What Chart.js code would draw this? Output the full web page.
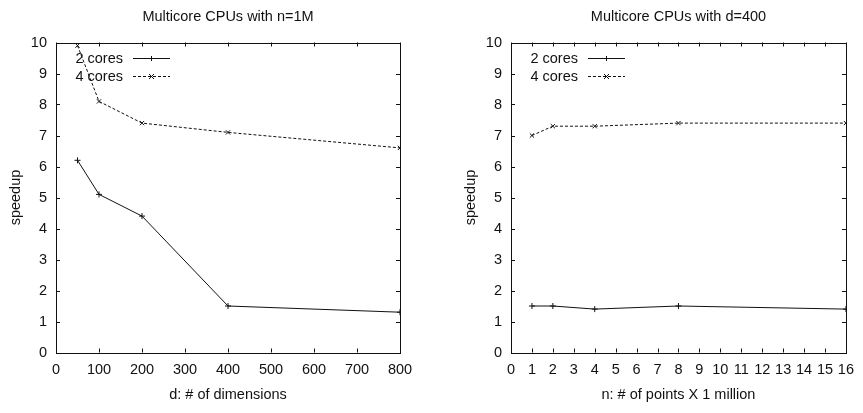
<!DOCTYPE html>
<html><head><meta charset="utf-8">
<script src="https://cdn.jsdelivr.net/npm/chart.js@4/dist/chart.umd.min.js"></script>
<style>
html,body{margin:0;padding:0;background:#fff;overflow:hidden;width:863px;height:413px}
#w1{position:absolute;left:0;top:0;width:431px;height:413px}
#w2{position:absolute;left:455px;top:0;width:408px;height:413px}
</style></head><body>
<div id="w1"><canvas id="c1"></canvas></div>
<div id="w2"><canvas id="c2"></canvas></div>
<script>
const dimX = [50, 100, 200, 400, 800];
const dim2cores = [6.2, 5.1, 4.4, 1.5, 1.3];
const dim4cores = [9.9, 8.1, 7.4, 7.1, 6.6];
const ptsX = [1, 2, 4, 8, 16];
const pts2cores = [1.5, 1.5, 1.4, 1.5, 1.4];
const pts4cores = [7.0, 7.3, 7.3, 7.4, 7.4];
const seriesLabels = ['2 cores', '4 cores'];
const titles = ['Multicore CPUs with n=1M', 'Multicore CPUs with d=400'];
const xTitles = ['d: # of dimensions', 'n: # of points X 1 million'];
const yTitle = 'speedup';

const FONT = '"Liberation Sans", Arial, sans-serif';
const FS = 14.5;
const INK = '#111';

const framePlugin = {
  id: 'frame',
  afterDatasetsDraw(chart) {
    const ctx = chart.ctx;
    const a = chart.chartArea;
    const xs = chart.scales.x, ys = chart.scales.y;
    ctx.save();
    ctx.strokeStyle = INK;
    ctx.lineWidth = 1;
    ctx.setLineDash([]);
    ctx.strokeRect(Math.round(a.left) + 0.5, Math.round(a.top) + 0.5,
      Math.round(a.right - a.left), Math.round(a.bottom - a.top));
    const tl = 4;
    ctx.beginPath();
    xs.ticks.forEach(t => {
      const px = Math.round(xs.getPixelForValue(t.value)) + 0.5;
      ctx.moveTo(px, a.bottom); ctx.lineTo(px, a.bottom - tl);
      ctx.moveTo(px, a.top); ctx.lineTo(px, a.top + tl);
    });
    ys.ticks.forEach(t => {
      const py = Math.round(ys.getPixelForValue(t.value)) + 0.5;
      ctx.moveTo(a.left, py); ctx.lineTo(a.left + tl, py);
      ctx.moveTo(a.right, py); ctx.lineTo(a.right - tl, py);
    });
    ctx.stroke();
    // legend (gnuplot style, inside top-left)
    ctx.font = FS + 'px ' + FONT;
    ctx.textAlign = 'right';
    ctx.textBaseline = 'middle';
    chart.data.datasets.forEach((ds, i) => {
      const y = Math.round(a.top + 15 + i * 18) + 0.5;
      ctx.fillStyle = INK;
      ctx.fillText(ds.label, a.left + 67, y);
      ctx.strokeStyle = INK;
      ctx.lineWidth = 1;
      ctx.setLineDash(ds.borderDash || []);
      ctx.beginPath();
      ctx.moveTo(a.left + 77, y); ctx.lineTo(a.left + 114, y);
      ctx.stroke();
      ctx.setLineDash([]);
      const mx = a.left + 95.5, r = 2.5;
      ctx.beginPath();
      if (ds.pointStyle === 'cross') {
        ctx.moveTo(mx - r, y); ctx.lineTo(mx + r, y);
        ctx.moveTo(mx, y - r); ctx.lineTo(mx, y + r);
      } else {
        ctx.moveTo(mx - r, y - r); ctx.lineTo(mx + r, y + r);
        ctx.moveTo(mx - r, y + r); ctx.lineTo(mx + r, y - r);
      }
      ctx.stroke();
    });
    ctx.restore();
  }
};

function makeChart(id, xs, s2, s4, idx, xMax, xStep, padRight) {
  const ds = (label, vals, dash, style) => ({
    label: label,
    data: xs.map((x, i) => ({x: x, y: vals[i]})),
    borderColor: INK, backgroundColor: INK,
    borderWidth: 1, borderDash: dash,
    pointStyle: style, pointRadius: 3, pointBorderWidth: 1,
    pointBorderColor: INK, tension: 0, fill: false
  });
  const f = {family: FONT, size: FS, weight: 'normal'};
  return new Chart(document.getElementById(id), {
    type: 'line',
    data: {
      datasets: [
        ds(seriesLabels[0], s2, [], 'cross'),
        ds(seriesLabels[1], s4, [3, 2], 'crossRot')
      ]
    },
    options: {
      responsive: true, maintainAspectRatio: false, animation: false,
      layout: {padding: {left: 0, right: padRight, top: 0, bottom: 0}},
      plugins: {
        legend: {display: false}, tooltip: {enabled: false},
        title: {
          display: true, text: titles[idx], fullSize: false, color: INK,
          font: f, padding: {top: 8.5, bottom: 16.6}
        }
      },
      scales: {
        x: {
          type: 'linear', min: 0, max: xMax,
          grid: {display: false, drawTicks: false},
          border: {display: false},
          ticks: {stepSize: xStep, color: INK, padding: 9, maxRotation: 0, autoSkip: false, font: f},
          title: {display: true, text: xTitles[idx], color: INK, font: f, padding: {top: 9.5, bottom: 9.5}},
          afterFit: s => { s.height = 60.5; }
        },
        y: {
          min: 0, max: 10,
          grid: {display: false, drawTicks: false},
          border: {display: false},
          ticks: {stepSize: 1, color: INK, padding: 9, font: f},
          title: {display: true, text: yTitle, color: INK, font: f, padding: {top: 7, bottom: 7}},
          afterFit: s => { s.width = 56; }
        }
      }
    },
    plugins: [framePlugin]
  });
}

makeChart('c1', dimX, dim2cores, dim4cores, 0, 800, 100, 31);
makeChart('c2', ptsX, pts2cores, pts4cores, 1, 16, 1, 9);
</script>
</body></html>
